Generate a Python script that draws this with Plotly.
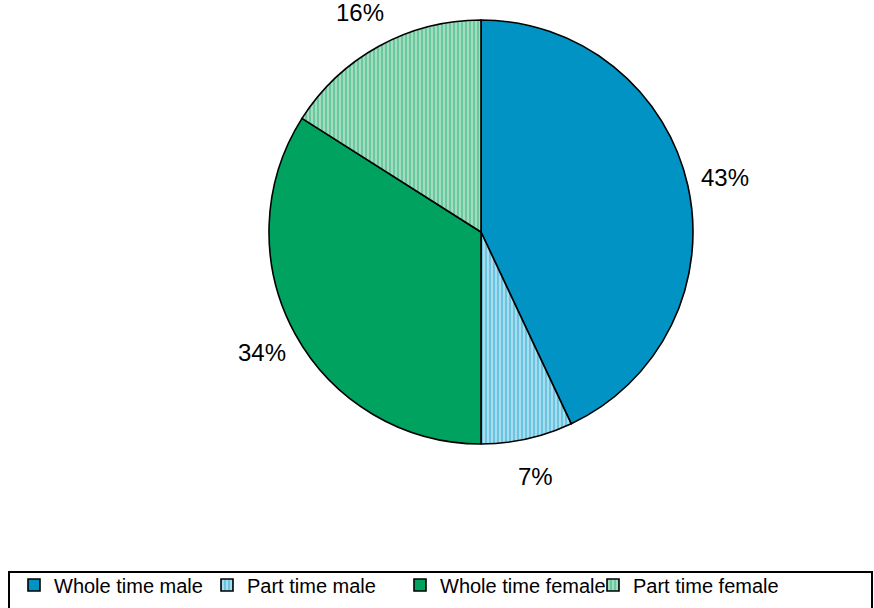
import math
import plotly.graph_objects as go

labels = ["Whole time male", "Part time male", "Whole time female", "Part time female"]
values = [43, 7, 34, 16]
fill_colors = ["#0093C3", "#A6DDEF", "#00A260", "#A3DDC0"]
stripe_colors = ["#0093C3", "#0093C3", "#00A260", "#00A260"]
pattern_shapes = ["", "|", "", "|"]

W, H = 874, 608
CX, CY, R = 481, 232, 212          # pie centre and radius in pixels
LABEL_FACTOR = 1.18                 # label centre distance / radius
FONT = "Arial, Liberation Sans, sans-serif"

fig = go.Figure()
fig.add_trace(go.Pie(
    labels=labels,
    values=values,
    sort=False,
    direction="clockwise",
    rotation=0,
    textinfo="none",
    marker=dict(
        colors=fill_colors,
        line=dict(color="black", width=1.6),
        pattern=dict(shape=pattern_shapes, fgcolor=stripe_colors, bgcolor=fill_colors,
                     size=4, solidity=0.35, fillmode="overlay"),
    ),
    domain=dict(x=[(CX - R) / W, (CX + R) / W], y=[(H - CY - R) / H, (H - CY + R) / H]),
    hoverinfo="label+percent",
))

# percentage labels placed outside each slice at its mid-angle
total = sum(values)
cum = 0.0
for v in values:
    mid = (cum + v / 2) / total * 2 * math.pi
    cum += v
    px = CX + LABEL_FACTOR * R * math.sin(mid)
    py = CY - LABEL_FACTOR * R * math.cos(mid)
    fig.add_annotation(
        x=px / W, y=(H - py) / H, xref="paper", yref="paper",
        text=f"{round(v / total * 100)}%", showarrow=False,
        xanchor="center", yanchor="middle",
        font=dict(family=FONT, size=24, color="black"),
    )

fig.add_shape(type="rect", xref="paper", yref="paper",
              x0=9 / W, x1=872 / W, y0=-0.2, y1=(H - 572) / H,
              line=dict(color="black", width=2), fillcolor="rgba(0,0,0,0)")

fig.update_layout(
    width=W, height=H,
    margin=dict(l=0, r=0, t=0, b=0),
    paper_bgcolor="white",
    plot_bgcolor="white",
    showlegend=True,
    legend=dict(
        orientation="h",
        x=14 / W, xanchor="left",
        y=(H - 585) / H, yanchor="middle",
        entrywidth=148, entrywidthmode="pixels",
        font=dict(family=FONT, size=20, color="black"),
        bgcolor="rgba(0,0,0,0)",
        traceorder="normal",
    ),
    font=dict(family=FONT, color="black"),
)

fig.write_html("out.html")
